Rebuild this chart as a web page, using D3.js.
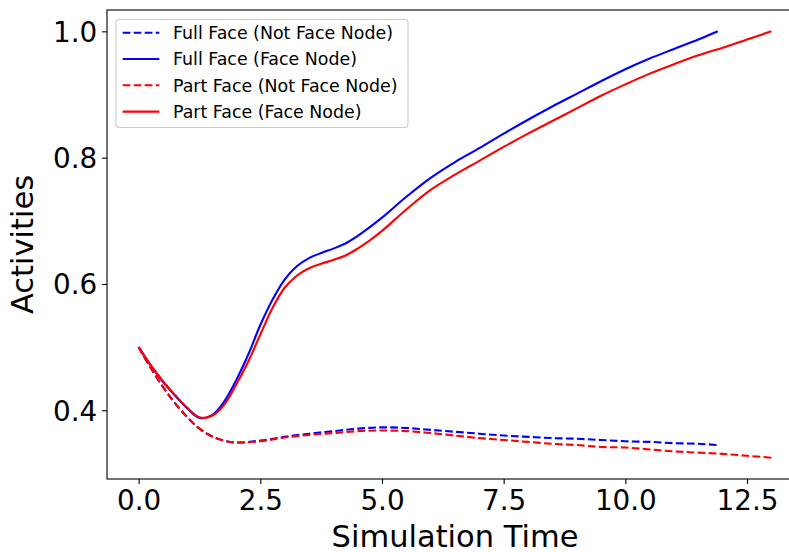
<!DOCTYPE html>
<html>
<head>
<meta charset="utf-8">
<script src="https://cdn.jsdelivr.net/npm/d3@7"></script>
<style>
  html, body { margin: 0; padding: 0; background: #fff; }
  svg { display: block; font-family: "DejaVu Sans", sans-serif; }
</style>
</head>
<body>
<svg id="chart" width="789" height="552"></svg>
<script>
// ---- Data ----
const timesFull = [0, 0.25, 0.5, 0.75, 1.0, 1.25, 1.5, 1.75, 2.0, 2.25, 2.5, 2.75, 3.0, 3.25, 3.5, 3.75, 4.0, 4.25, 4.5, 4.75, 5.0, 5.5, 6.0, 6.5, 7.0, 7.5, 8.0, 8.5, 9.0, 9.5, 10.0, 10.5, 11.0, 11.5, 11.9];
const fullFaceNode = [0.5, 0.471, 0.445, 0.423, 0.403, 0.388, 0.392, 0.413, 0.447, 0.488, 0.535, 0.575, 0.607, 0.628, 0.641, 0.649, 0.656, 0.664, 0.676, 0.69, 0.705, 0.738, 0.768, 0.793, 0.815, 0.838, 0.86, 0.881, 0.901, 0.921, 0.94, 0.957, 0.972, 0.987, 1.0];
const timesFullDash = [0, 0.25, 0.5, 0.75, 1.0, 1.25, 1.5, 1.75, 2.0, 2.5, 3.0, 3.5, 4.0, 4.5, 5.0, 5.5, 6.0, 6.5, 7.0, 7.5, 8.0, 8.5, 9.0, 9.5, 10.0, 10.5, 11.0, 11.5, 11.9];
const fullNotFaceNode = [0.5, 0.467, 0.437, 0.411, 0.389, 0.371, 0.359, 0.352, 0.349, 0.352, 0.358, 0.363, 0.367, 0.371, 0.373, 0.372, 0.369, 0.366, 0.363, 0.36, 0.358, 0.356, 0.355, 0.353, 0.351, 0.35, 0.348, 0.347, 0.345];
const timesPart = [0, 0.25, 0.5, 0.75, 1.0, 1.25, 1.5, 1.75, 2.0, 2.25, 2.5, 2.75, 3.0, 3.25, 3.5, 3.75, 4.0, 4.25, 4.5, 4.75, 5.0, 5.5, 6.0, 6.5, 7.0, 7.5, 8.0, 8.5, 9.0, 9.5, 10.0, 10.5, 11.0, 11.5, 12.0, 12.5, 13.0];
const partFaceNode = [0.5, 0.471, 0.446, 0.424, 0.404, 0.389, 0.391, 0.408, 0.44, 0.477, 0.52, 0.562, 0.594, 0.613, 0.625, 0.632, 0.638, 0.645, 0.656, 0.669, 0.684, 0.718, 0.749, 0.773, 0.795, 0.817, 0.838, 0.858, 0.878, 0.898, 0.916, 0.933, 0.948, 0.962, 0.974, 0.987, 1.0];
const timesPartDash = [0, 0.25, 0.5, 0.75, 1.0, 1.25, 1.5, 1.75, 2.0, 2.5, 3.0, 3.5, 4.0, 4.5, 5.0, 5.5, 6.0, 6.5, 7.0, 7.5, 8.0, 8.5, 9.0, 9.5, 10.0, 10.5, 11.0, 11.5, 12.0, 12.5, 13.0];
const partNotFaceNode = [0.5, 0.467, 0.437, 0.411, 0.389, 0.371, 0.359, 0.352, 0.349, 0.351, 0.357, 0.361, 0.364, 0.367, 0.368, 0.367, 0.364, 0.36, 0.356, 0.353, 0.35, 0.347, 0.345, 0.342, 0.341, 0.338, 0.335, 0.333, 0.331, 0.328, 0.325];

const seriesLabels = ["Full Face (Not Face Node)", "Full Face (Face Node)", "Part Face (Not Face Node)", "Part Face (Face Node)"];
const xTicks = [0, 2.5, 5, 7.5, 10, 12.5];
const yTicks = [0.4, 0.6, 0.8, 1.0];
const xLabel = "Simulation Time";
const yLabel = "Activities";

// ---- Series definitions ----
const series = [
  { label: seriesLabels[0], xs: timesFullDash, ys: fullNotFaceNode, color: "#0000ff", dashed: true },
  { label: seriesLabels[1], xs: timesFull, ys: fullFaceNode, color: "#0000ff", dashed: false },
  { label: seriesLabels[2], xs: timesPartDash, ys: partNotFaceNode, color: "#ff0000", dashed: true },
  { label: seriesLabels[3], xs: timesPart, ys: partFaceNode, color: "#ff0000", dashed: false }
];

// ---- Layout ----
const plot = { left: 107, right: 803, top: 10, bottom: 479 };
const svg = d3.select("#chart");

const x = d3.scaleLinear().domain([-0.65, 13.65]).range([plot.left, plot.right]);
const y = d3.scaleLinear().domain([0.29125, 1.03375]).range([plot.bottom, plot.top]);

// clip
svg.append("defs").append("clipPath").attr("id", "clip")
  .append("rect").attr("x", plot.left).attr("y", plot.top)
  .attr("width", plot.right - plot.left).attr("height", plot.bottom - plot.top);

// lines
const line = d3.line().x(d => x(d[0])).y(d => y(d[1])).curve(d3.curveCatmullRom.alpha(0.5));
const gLines = svg.append("g").attr("clip-path", "url(#clip)");
series.forEach(s => {
  const pts = s.xs.map((t, i) => [t, s.ys[i]]);
  gLines.append("path")
    .attr("d", line(pts))
    .attr("fill", "none")
    .attr("stroke", s.color)
    .attr("stroke-width", 2.1)
    .attr("stroke-dasharray", s.dashed ? "7.7,3.3" : null);
});

// axes
const xAxis = d3.axisBottom(x).tickValues(xTicks).tickFormat(d3.format(".1f")).tickSize(4.9).tickPadding(4.9);
const yAxis = d3.axisLeft(y).tickValues(yTicks).tickFormat(d3.format(".1f")).tickSize(4.9).tickPadding(4.9);

const gx = svg.append("g").attr("transform", `translate(0,${plot.bottom})`).call(xAxis);
const gy = svg.append("g").attr("transform", `translate(${plot.left},0)`).call(yAxis);
[gx, gy].forEach(g => {
  g.select(".domain").remove();
  g.selectAll(".tick line").attr("stroke", "#000").attr("stroke-width", 1.1);
  g.selectAll(".tick text").attr("fill", "#000").style("font-size", "27.8px")
    .style("font-family", "'DejaVu Sans', sans-serif");
});
gx.selectAll(".tick text").attr("dy", null).attr("y", 9.8).attr("dominant-baseline", "hanging");
gy.selectAll(".tick text").attr("dy", "0.36em");

// frame
svg.append("rect")
  .attr("x", plot.left).attr("y", plot.top)
  .attr("width", plot.right - plot.left).attr("height", plot.bottom - plot.top)
  .attr("fill", "none").attr("stroke", "#000").attr("stroke-width", 1.1);

// axis labels
svg.append("text")
  .attr("x", (plot.left + plot.right) / 2).attr("y", 547)
  .attr("text-anchor", "middle").style("font-size", "30.5px").attr("fill", "#000")
  .text(xLabel);
svg.append("text")
  .attr("transform", `translate(33,${(plot.top + plot.bottom) / 2}) rotate(-90)`)
  .attr("text-anchor", "middle").style("font-size", "30.5px").attr("fill", "#000")
  .text(yLabel);

// legend
const leg = svg.append("g");
leg.append("rect")
  .attr("x", 116).attr("y", 19.5).attr("width", 292).attr("height", 108)
  .attr("rx", 3).attr("ry", 3)
  .attr("fill", "#fff").attr("fill-opacity", 0.8)
  .attr("stroke", "#cccccc").attr("stroke-width", 1.1);
series.forEach((s, i) => {
  const cy = 32.7 + i * 26.3;
  leg.append("line")
    .attr("x1", 122.7).attr("x2", 159.3).attr("y1", cy).attr("y2", cy)
    .attr("stroke", s.color).attr("stroke-width", 2.1)
    .attr("stroke-dasharray", s.dashed ? "7.7,3.3" : null);
  leg.append("text")
    .attr("x", 173).attr("y", cy).attr("dy", "0.36em")
    .style("font-size", "17.4px").attr("fill", "#000")
    .text(s.label);
});
</script>
</body>
</html>
